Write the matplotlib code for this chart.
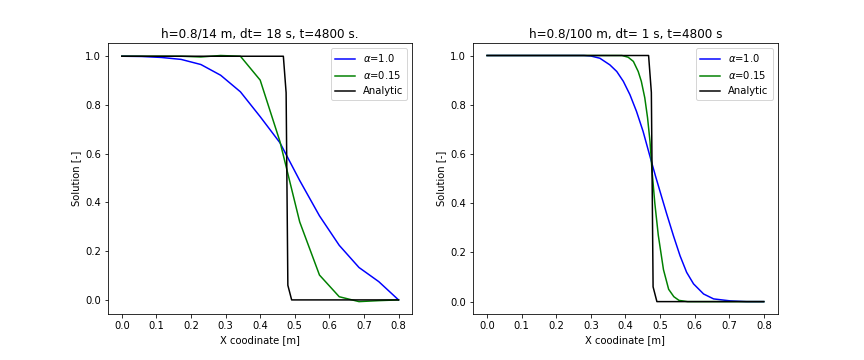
import numpy as np
import matplotlib.pyplot as plt

# coarse grid, h = 0.8/14
x_coarse = np.linspace(0, 0.8, 15)
c_coarse_a1 = [1.0, 0.999, 0.995, 0.987, 0.966, 0.922, 0.854, 0.752, 0.645,
               0.49, 0.345, 0.224, 0.133, 0.075, 0.0]
c_coarse_a015 = [1.0, 1.0, 1.0, 1.0, 0.997, 1.003, 1.0, 0.902, 0.65,
                 0.32, 0.102, 0.013, -0.007, -0.003, 0.0]

# fine grid, h = 0.8/100 (values read at selected x positions)
x_fine_a1 = [0.0, 0.28, 0.30, 0.326, 0.355, 0.375, 0.394, 0.413, 0.432, 0.451,
             0.471, 0.487, 0.5, 0.519, 0.539, 0.558, 0.577, 0.597, 0.626,
             0.655, 0.703, 0.75, 0.8]
c_fine_a1 = [1.0, 1.0, 0.998, 0.989, 0.962, 0.935, 0.895, 0.841, 0.773, 0.692,
             0.59, 0.51, 0.448, 0.358, 0.267, 0.186, 0.119, 0.072, 0.031,
             0.011, 0.003, 0.0, 0.0]
x_fine_a015 = [0.0, 0.39, 0.408, 0.423, 0.437, 0.446, 0.456, 0.464, 0.471,
               0.477, 0.485, 0.495, 0.51, 0.525, 0.54, 0.555, 0.58, 0.8]
c_fine_a015 = [1.0, 1.0, 0.993, 0.976, 0.935, 0.895, 0.828, 0.747, 0.652,
               0.53, 0.40, 0.27, 0.13, 0.05, 0.02, 0.005, 0.0, 0.0]

# analytic front
x_analytic = [0.0, 0.467, 0.475, 0.480, 0.491, 0.8]
c_analytic = [1.0, 1.0, 0.85, 0.06, 0.0, 0.0]

titles = ["h=0.8/14 m, dt= 18 s, t=4800 s.", "h=0.8/100 m, dt= 1 s, t=4800 s"]


def main():
    fig, axes = plt.subplots(1, 2, figsize=(12, 5), dpi=72)
    fig.subplots_adjust(left=0.125, right=0.9, top=0.88, bottom=0.128, wspace=0.2)

    data = [(x_coarse, c_coarse_a1, x_coarse, c_coarse_a015),
            (x_fine_a1, c_fine_a1, x_fine_a015, c_fine_a015)]
    for ax, title, (xa, ca, xb, cb) in zip(axes, titles, data):
        ax.plot(xa, ca, 'b', label=r'$\alpha$=1.0')
        ax.plot(xb, cb, 'g', label=r'$\alpha$=0.15')
        ax.plot(x_analytic, c_analytic, 'k', label='Analytic')
        ax.set_title(title)
        ax.set_xlabel("X coodinate [m]")
        ax.set_ylabel("Solution [-]")
        ax.legend(loc='upper right')

    fig.savefig("out.png", dpi=72)


if __name__ == "__main__":
    main()
